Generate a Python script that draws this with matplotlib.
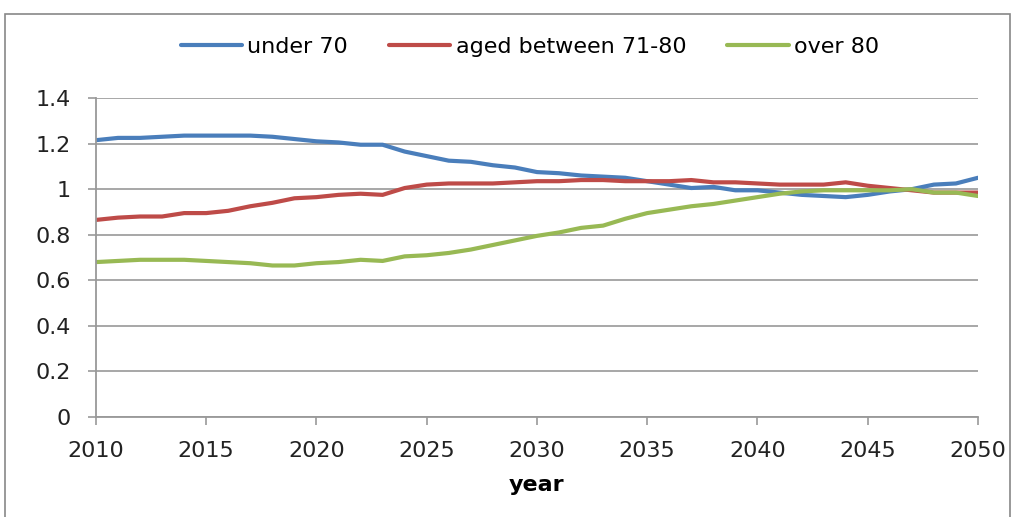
import matplotlib.pyplot as plt
from matplotlib.patches import Rectangle

years = list(range(2010, 2051))

under_70 = [1.215, 1.225, 1.225, 1.23, 1.235, 1.235, 1.235, 1.235, 1.23, 1.22,
            1.21, 1.205, 1.195, 1.195, 1.165, 1.145, 1.125, 1.12, 1.105, 1.095,
            1.075, 1.07, 1.06, 1.055, 1.05, 1.035, 1.02, 1.005, 1.01, 0.995,
            0.995, 0.985, 0.975, 0.97, 0.965, 0.975, 0.99, 1.0, 1.02, 1.025,
            1.05]
aged_71_80 = [0.865, 0.875, 0.88, 0.88, 0.895, 0.895, 0.905, 0.925, 0.94, 0.96,
              0.965, 0.975, 0.98, 0.975, 1.005, 1.02, 1.025, 1.025, 1.025, 1.03,
              1.035, 1.035, 1.04, 1.04, 1.035, 1.035, 1.035, 1.04, 1.03, 1.03,
              1.025, 1.02, 1.02, 1.02, 1.03, 1.015, 1.005, 0.995, 0.985, 0.985,
              0.985]
over_80 = [0.68, 0.685, 0.69, 0.69, 0.69, 0.685, 0.68, 0.675, 0.665, 0.665,
           0.675, 0.68, 0.69, 0.685, 0.705, 0.71, 0.72, 0.735, 0.755, 0.775,
           0.795, 0.81, 0.83, 0.84, 0.87, 0.895, 0.91, 0.925, 0.935, 0.95,
           0.965, 0.98, 0.99, 0.995, 0.995, 0.995, 0.995, 1.0, 0.985, 0.985,
           0.97]

series = [("under 70", under_70, "#4a7ebb"),
          ("aged between 71-80", aged_71_80, "#be4b48"),
          ("over 80", over_80, "#98b954")]

plt.rcParams['font.family'] = ['DejaVu Sans']

fig = plt.figure(figsize=(10.23, 5.17), dpi=100)
ax = fig.add_axes([0.0938, 0.1934, 0.8622, 0.617])

# outer chart frame
fig.patches.append(Rectangle((5 / 1023, -0.05), 1005 / 1023, 1 - 14 / 517 + 0.05,
                             transform=fig.transFigure, fill=False,
                             edgecolor="#888888", linewidth=1.2))

for name, vals, col in series:
    ax.plot(years, vals, color=col, linewidth=3, label=name, solid_capstyle='round')

ax.set_xlim(2010, 2050)
ax.set_ylim(0, 1.4)
ax.set_xticks(range(2010, 2051, 5))
ax.set_yticks([0, 0.2, 0.4, 0.6, 0.8, 1.0, 1.2, 1.4])
ax.set_yticklabels(["0", "0.2", "0.4", "0.6", "0.8", "1", "1.2", "1.4"])
ax.yaxis.grid(True, color="#a0a0a0", linewidth=1.3)
ax.set_axisbelow(True)

for s in ["top", "right"]:
    ax.spines[s].set_visible(False)
for s in ["left", "bottom"]:
    ax.spines[s].set_color("#999999")
    ax.spines[s].set_linewidth(1.3)
ax.tick_params(axis="both", direction="out", length=6, width=1.2,
               color="#999999", labelsize=16, labelcolor="#222222")
ax.tick_params(axis="x", pad=11)
ax.tick_params(axis="y", pad=12)

ax.set_xlabel("year", fontsize=16, fontweight="bold", labelpad=10)

fig.legend(loc="center", bbox_to_anchor=(0.518, 0.91), ncol=3, frameon=False,
           fontsize=16, handlelength=2.75, handletextpad=0.25, columnspacing=1.85)

plt.savefig("out.png", dpi=100)
